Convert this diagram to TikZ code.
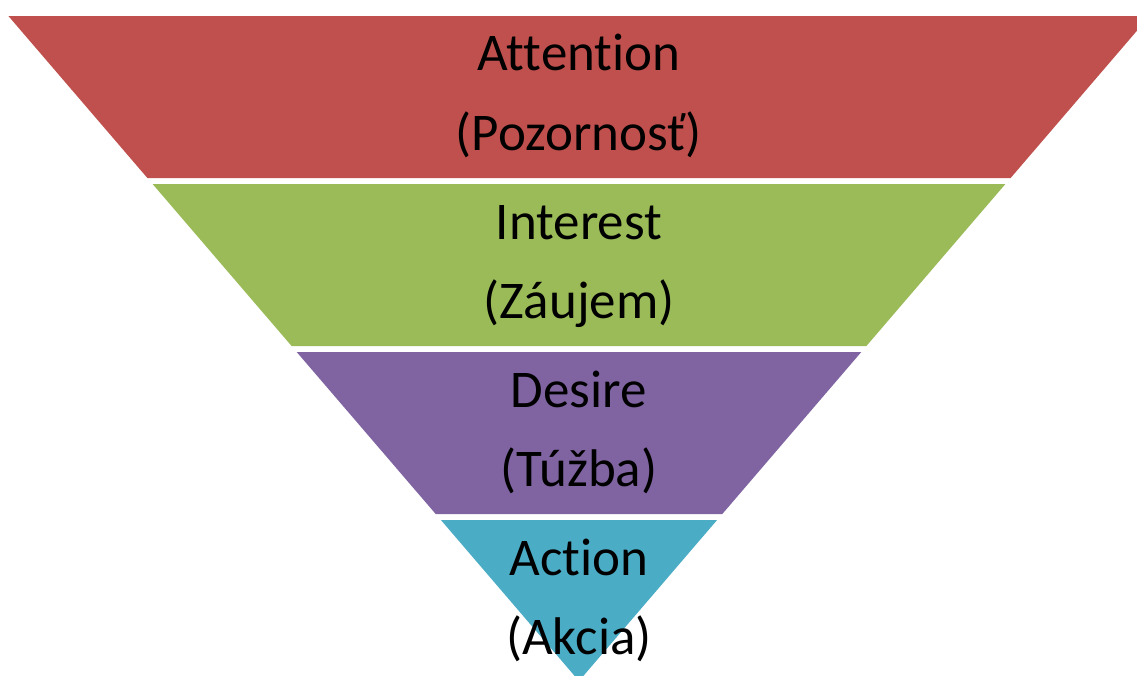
\documentclass[tikz,border=0pt]{standalone}
\usepackage{fontspec}
\setmainfont[Ligatures=NoCommon]{Carlito}
\definecolor{bandred}{HTML}{C0504D}
\definecolor{bandgreen}{HTML}{9BBB59}
\definecolor{bandpurple}{HTML}{8064A2}
\definecolor{bandcyan}{HTML}{4BACC6}
\tikzset{
  bandtext/.style={anchor=base, inner sep=0pt, font=\fontsize{53}{64}\selectfont, text=black},
}
\begin{document}
\begin{tikzpicture}[x=1pt,y=-1pt]
\useasboundingbox (0,0) rectangle (1137,675);
\clip (0,0) rectangle (1137,675);
\fill[white] (0,0) rectangle (1137,675);
\fill[bandred] (8.4,16) -- (1149.6,16) -- (1010.6,178) -- (147.4,178) -- cycle;
\fill[bandgreen] (152.6,184) -- (1005.4,184) -- (866.4,346) -- (291.6,346) -- cycle;
\fill[bandpurple] (296.7,352) -- (861.3,352) -- (722.3,514) -- (435.7,514) -- cycle;
\fill[bandcyan] (440.9,520) -- (717.1,520) -- (579,681) -- cycle;
\node[bandtext] (att) at (579,70.7) {Attention};
\node[bandtext] (poz) at (579,150) {(Pozornosť)};
\node[bandtext] (int) at (579,239) {Interest};
\node[bandtext] (zau) at (579,318) {(Záujem)};
\node[bandtext] (des) at (579,407) {Desire};
\node[bandtext] (tuz) at (579,486) {(Túžba)};
\node[bandtext] (act) at (579,575) {Action};
\node[bandtext] (akc) at (579,654) {(Akcia)};
\end{tikzpicture}
\end{document}
